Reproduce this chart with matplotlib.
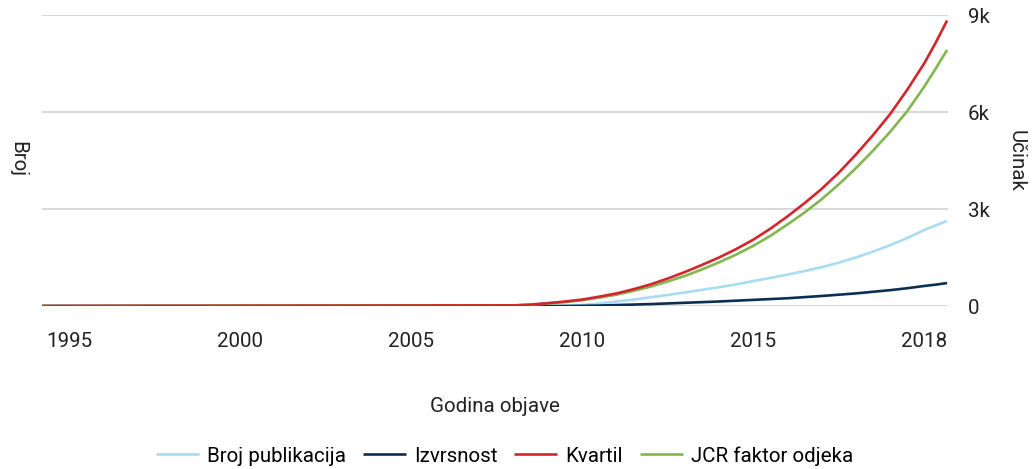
import matplotlib.pyplot as plt
from matplotlib.ticker import FixedLocator

plt.rcParams["font.family"] = ["Roboto", "DejaVu Sans"]

# years on the plotted axis (last sample sits at the right edge of the plot)
years = [1994, 2008, 2008.5, 2009, 2009.5, 2010, 2010.5, 2011, 2011.5,
         2012, 2012.5, 2013, 2013.5, 2014, 2014.5, 2015, 2015.5, 2016,
         2016.5, 2017, 2017.5, 2018, 2018.5, 2019, 2019.5, 2020, 2020.33,
         2020.67]

# values in thousands
broj_publikacija = [0, 0, 0, 0, 0.005, 0.03, 0.08, 0.14, 0.2, 0.27, 0.34,
                    0.42, 0.5, 0.58, 0.67, 0.77, 0.87, 0.97, 1.08, 1.2,
                    1.34, 1.5, 1.68, 1.88, 2.1, 2.35, 2.49, 2.63]
izvrsnost = [0, 0, 0, 0, 0, 0.005, 0.015, 0.03, 0.045, 0.06, 0.08, 0.1,
             0.12, 0.14, 0.165, 0.19, 0.215, 0.24, 0.275, 0.31, 0.35, 0.39,
             0.44, 0.49, 0.55, 0.62, 0.66, 0.71]
kvartil = [0, 0.02, 0.045, 0.09, 0.14, 0.2, 0.29, 0.39, 0.52, 0.67, 0.85,
           1.05, 1.27, 1.5, 1.76, 2.05, 2.39, 2.77, 3.18, 3.62, 4.12, 4.68,
           5.28, 5.93, 6.68, 7.5, 8.13, 8.83]
jcr_faktor = [0, 0.02, 0.04, 0.08, 0.12, 0.18, 0.26, 0.35, 0.47, 0.6, 0.76,
              0.93, 1.13, 1.35, 1.59, 1.86, 2.17, 2.52, 2.89, 3.3, 3.76,
              4.26, 4.8, 5.38, 6.02, 6.78, 7.33, 7.92]

tick_pos = [1995, 2000, 2005, 2010, 2015, 2020]
tick_labels = ["1995", "2000", "2005", "2010", "2015", "2018"]
y_ticks = [0, 3, 6, 9]
y_labels = ["0", "3k", "6k", "9k"]

fs = 14.8
txt = "#222222"

fig = plt.figure(figsize=(10.32, 4.69), dpi=100)
ax = fig.add_axes([0.0407, 0.3475, 0.878, 0.6205])

series = [
    ("Broj publikacija", broj_publikacija, "#a8dcf1", 2),
    ("Izvrsnost", izvrsnost, "#0b2f52", 3),
    ("Kvartil", kvartil, "#d4252c", 5),
    ("JCR faktor odjeka", jcr_faktor, "#82b74d", 4),
]
for name, vals, color, z in series:
    ax.plot(years, [v * 1000 for v in vals], color=color, lw=1.9,
            label=name, zorder=z, solid_capstyle="butt",
            solid_joinstyle="round")

ax.set_xlim(1994.2, 2020.7)
ax.set_ylim(0, 9000)
ax.xaxis.set_major_locator(FixedLocator(tick_pos))
ax.set_xticklabels(tick_labels)
ax.yaxis.tick_right()
ax.yaxis.set_label_position("right")
ax.set_yticks([v * 1000 for v in y_ticks])
ax.set_yticklabels(y_labels)
ax.tick_params(axis="both", length=0, labelsize=fs, colors=txt)
ax.tick_params(axis="x", pad=19)
ax.tick_params(axis="y", pad=14)

ax.grid(axis="y", color="#d9d9d9", lw=1.5, zorder=0)
ax.set_axisbelow(True)
for s in ax.spines.values():
    s.set_visible(False)

ax.set_xlabel("Godina objave", fontsize=fs, labelpad=33, color=txt)
ax.set_ylabel("Učinak", fontsize=fs, rotation=270, labelpad=12,
              color=txt, va="bottom")
fig.text(0.017, 0.66, "Broj", fontsize=fs, rotation=270, ha="center",
         va="center", color=txt)

fig.legend(loc="center", bbox_to_anchor=(0.489, 0.028), ncol=4,
           frameon=False, fontsize=fs, handlelength=2.1,
           handletextpad=0.4, columnspacing=0.8)

plt.savefig("out.png", dpi=100)
plt.close(fig)
